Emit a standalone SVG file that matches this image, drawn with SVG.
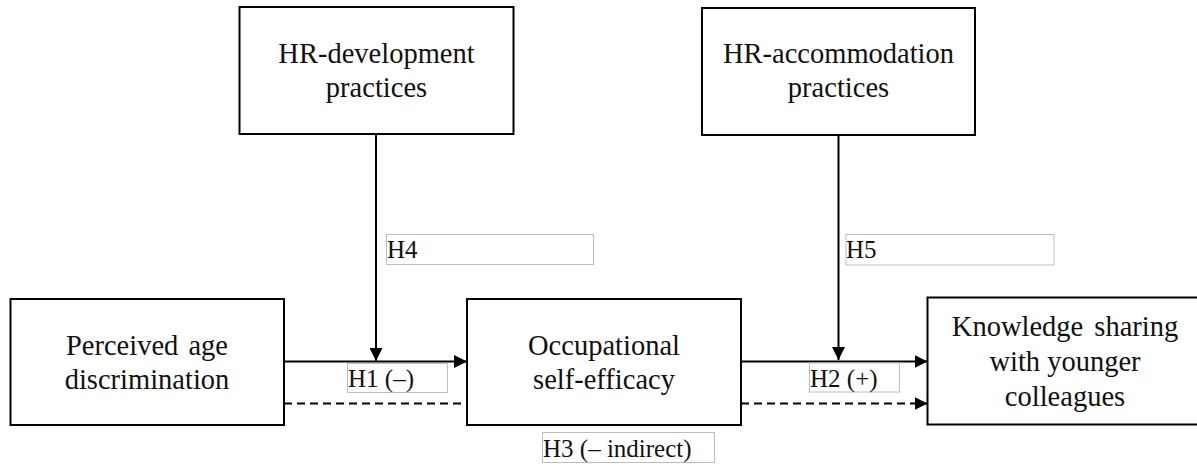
<svg xmlns="http://www.w3.org/2000/svg" width="1197" height="466" viewBox="0 0 1197 466">
<style>
.box{fill:#fff;stroke:#000;stroke-width:2}
.t{font-family:"Liberation Serif","Times New Roman",serif;font-size:28.5px;fill:#111;text-anchor:middle}
.lbl{fill:#fff;stroke:#bdbdbd;stroke-width:1}
.lt{font-family:"Liberation Serif","Times New Roman",serif;font-size:25px;fill:#111}
.c{stroke:#000;stroke-width:2;fill:none}
.d{stroke-dasharray:8 5}
</style>
<defs>
<marker id="ah" markerUnits="userSpaceOnUse" markerWidth="13" markerHeight="13" refX="13" refY="6.5" orient="auto">
<path d="M0,0 L13,6.5 L0,13 Z" fill="#000"/>
</marker>
</defs>
<g id="connectors">
<line class="c" x1="376" y1="134" x2="376" y2="361" marker-end="url(#ah)"/>
<line class="c" x1="838.5" y1="135" x2="838.5" y2="360" marker-end="url(#ah)"/>
<line class="c" x1="284" y1="361.5" x2="467" y2="361.5" marker-end="url(#ah)"/>
<line class="c" x1="741" y1="361.5" x2="927.5" y2="361.5" marker-end="url(#ah)"/>
<line class="c d" x1="284" y1="403.5" x2="467" y2="403.5"/>
<line class="c d" x1="741" y1="403.5" x2="927.5" y2="403.5" marker-end="url(#ah)"/>
<g id="label-h4"><rect class="lbl" x="386.5" y="234.5" width="207" height="30"/><text class="lt" x="387" y="258">H4</text></g>
<g id="label-h5"><rect class="lbl" x="846" y="234.5" width="208" height="30.5"/><text class="lt" x="846" y="258">H5</text></g>
<g id="label-h1"><rect class="lbl" x="347.5" y="363.5" width="100" height="29"/><text class="lt" x="348" y="387">H1 (–)</text></g>
<g id="label-h2"><rect class="lbl" x="809.5" y="363" width="90" height="29"/><text class="lt" x="810" y="387">H2 (+)</text></g>
<g id="label-h3"><rect class="lbl" x="542.5" y="432.5" width="172" height="30"/><text class="lt" x="543" y="456.5">H3 (– indirect)</text></g>
</g>
<g id="hr-development">
<rect class="box" x="239.5" y="7" width="274" height="127"/>
<text class="t" x="376.5" y="63">HR-development</text>
<text class="t" x="376.5" y="97">practices</text>
</g>
<g id="hr-accommodation">
<rect class="box" x="702" y="8" width="273" height="127"/>
<text class="t" x="838.5" y="63">HR-accommodation</text>
<text class="t" x="838.5" y="97">practices</text>
</g>
<g id="perceived-age-discrimination">
<rect class="box" x="10.5" y="299" width="273.5" height="126"/>
<text class="t" x="147" y="355" word-spacing="3">Perceived age</text>
<text class="t" x="147" y="389">discrimination</text>
</g>
<g id="occupational-self-efficacy">
<rect class="box" x="467" y="299" width="274" height="126"/>
<text class="t" x="604" y="355">Occupational</text>
<text class="t" x="604" y="389">self-efficacy</text>
</g>
<g id="knowledge-sharing">
<rect class="box" x="927.5" y="297.5" width="274.5" height="127"/>
<text class="t" x="1065" y="336" word-spacing="4">Knowledge sharing</text>
<text class="t" x="1065" y="371">with younger</text>
<text class="t" x="1065" y="405.5">colleagues</text>
</g>
</svg>
